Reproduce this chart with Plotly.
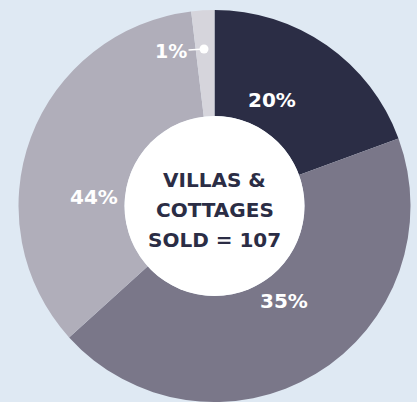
import plotly.graph_objects as go

# slice labels as printed on the chart, and slice sizes as drawn
labels = ["20%", "35%", "44%", "1%"]
shares = [19.4, 43.9, 34.8, 1.9]
colors = ["#2b2d45", "#7a7789", "#b0aeba", "#d6d5dc"]

center_lines = ["VILLAS &", "COTTAGES", "SOLD = 107"]

W, H = 417, 402
bg = "#dfe9f3"
navy = "#2b2d45"
font_family = "'DejaVu Sans', sans-serif"


def px(x, y):
    # pixel position -> paper coordinates
    return x / W, 1 - y / H


fig = go.Figure()

fig.add_trace(
    go.Pie(
        labels=labels,
        values=shares,
        marker=dict(colors=colors, line=dict(width=0)),
        hole=0.459,
        sort=False,
        direction="clockwise",
        rotation=0,
        textinfo="none",
        hoverinfo="skip",
        showlegend=False,
        domain=dict(x=[18.5 / W, 410.5 / W], y=[0, 1 - 10 / H]),
    )
)

# white disc in the hole
x0, y1 = px(124.5, 116)
x1, y0 = px(304.5, 296)
fig.add_shape(type="circle", xref="paper", yref="paper",
              x0=x0, y0=y0, x1=x1, y1=y1,
              fillcolor="white", line=dict(width=0), layer="above")

label_pos = {"20%": (297.5, 86), "35%": (310, 315), "44%": (67.5, 197)}
for lab, (lx, ly) in label_pos.items():
    ax_, ay_ = px(lx, ly)
    fig.add_annotation(x=ax_, y=ay_, xref="paper", yref="paper",
                       text=lab, showarrow=False,
                       font=dict(family=font_family, size=20, color="white", weight=700))

# 1% label with leader line and dot
dx, dy = px(204, 49)
fig.add_annotation(x=dx, y=dy, xref="paper", yref="paper",
                   text="1%", showarrow=True, ax=-33, ay=2,
                   arrowhead=6, arrowsize=1.5, arrowwidth=1.5, arrowcolor="white",
                   font=dict(family=font_family, size=19, color="white", weight=700))

for line, ly in zip(center_lines, [180, 210, 240]):
    cx, cy = px(214.5, ly)
    fig.add_annotation(x=cx, y=cy, xref="paper", yref="paper",
                       text=line, showarrow=False,
                       font=dict(family=font_family, size=20, color=navy, weight=700))

fig.update_layout(
    width=W, height=H,
    margin=dict(l=0, r=0, t=0, b=0),
    paper_bgcolor=bg,
    plot_bgcolor=bg,
)

fig.write_html("out.html", config={"displayModeBar": False},
               post_script="document.body.style.margin='0';")
